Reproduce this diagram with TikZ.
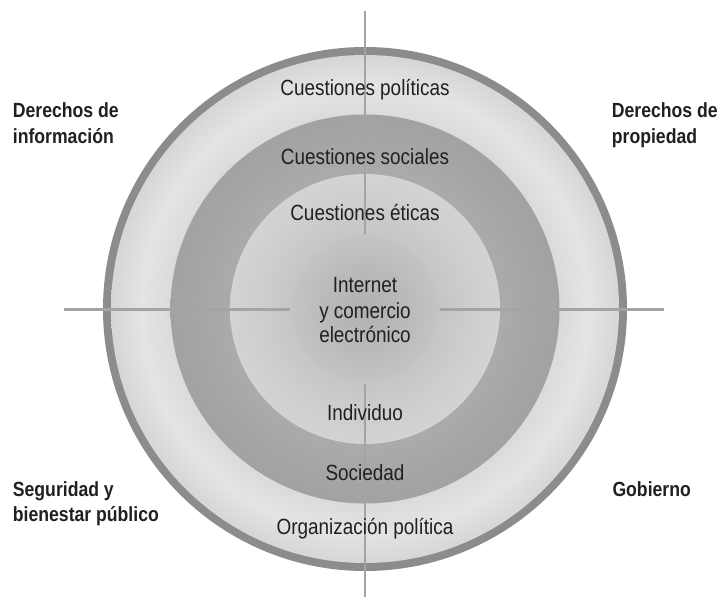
\documentclass[tikz,border=0pt]{standalone}
\usepackage{fontspec}
\setmainfont{Liberation Sans}[FakeStretch=0.86]
\definecolor{ink}{HTML}{231F20}
\definecolor{bordergray}{HTML}{8C8C8C}
\definecolor{axisgray}{HTML}{A4A4A4}
\definecolor{rim}{HTML}{C8C8C8}
\definecolor{aA}{HTML}{DADADA}
\definecolor{aB}{HTML}{E4E4E4}
\definecolor{aC}{HTML}{D6D6D6}
\definecolor{bA}{HTML}{ABABAB}
\definecolor{bB}{HTML}{A6A6A6}
\definecolor{bC}{HTML}{A2A2A2}
\definecolor{cA}{HTML}{C6C6C6}
\definecolor{cB}{HTML}{CDCDCD}
\definecolor{cC}{HTML}{D3D3D3}
\definecolor{dA}{HTML}{B1B1B1}
\definecolor{dB}{HTML}{BABABA}
\definecolor{dC}{HTML}{C4C4C4}
\pgfdeclareradialshading{ringA}{\pgfpoint{0bp}{0bp}}{color(0bp)=(aA); color(19bp)=(aA); color(22bp)=(aB); color(25bp)=(aC); color(50bp)=(aC)}
\pgfdeclareradialshading{ringB}{\pgfpoint{0bp}{0bp}}{color(0bp)=(bA); color(17.3bp)=(bA); color(21bp)=(bB); color(25bp)=(bC); color(50bp)=(bC)}
\pgfdeclareradialshading{ringC}{\pgfpoint{0bp}{0bp}}{color(0bp)=(cA); color(13.8bp)=(cA); color(19bp)=(cB); color(25bp)=(cC); color(50bp)=(cC)}
\pgfdeclareradialshading{core}{\pgfpoint{0bp}{0bp}}{color(0bp)=(dA); color(14bp)=(dB); color(25bp)=(dC); color(50bp)=(dC)}
\begin{document}
\begin{tikzpicture}[x=1pt,y=-1pt,
  lbl/.style={anchor=base,inner sep=0pt,text=ink,font=\fontsize{22}{25}\selectfont},
  side/.style={anchor=base west,inner sep=0pt,text=ink,font=\fontsize{20.5}{26}\selectfont\bfseries},
  axis/.style={draw=axisgray,line width=2.4pt}]
\useasboundingbox (0,0) rectangle (721,605);
\coordinate (c) at (365,309);
\coordinate (top) at (365,11);
\coordinate (bot) at (365,597);
\coordinate (lft) at (64,309.5);
\coordinate (rgt) at (664,309.5);
% rings
\fill[bordergray] (c) circle[radius=262];
\shade[shading=ringA] (c) circle[radius=254];
\shade[shading=ringB] (c) circle[radius=194.5];
\shade[shading=ringC] (c) circle[radius=135];
% axes
\draw[axis] (top) -- (bot);
\draw[axis] (lft) -- (rgt);
% core
\shade[shading=core] (c) circle[radius=74.5];
\draw[rim,line width=1pt] (c) circle[radius=74];
% ring labels
\node[lbl] (pol) at (365,95.5) {Cuestiones políticas};
\node[lbl] (soc) at (365,164.5) {Cuestiones sociales};
\node[lbl] (eti) at (365,220.5) {Cuestiones éticas};
\node[lbl] (in1) at (365,292.5) {Internet};
\node[lbl] (in2) at (365,318) {y comercio};
\node[lbl] (in3) at (365,342.5) {electrónico};
\node[lbl] (ind) at (365,420.5) {Individuo};
\node[lbl] (sdd) at (365,480) {Sociedad};
\node[lbl] (org) at (365,534) {Organización política};
% side labels
\node[side] (di1) at (12.7,117.3) {Derechos de};
\node[side] (di2) at (12.7,143.3) {información};
\node[side] (dp1) at (611.7,117.3) {Derechos de};
\node[side] (dp2) at (611.7,143.3) {propiedad};
\node[side] (sb1) at (12.7,496) {Seguridad y};
\node[side] (sb2) at (12.7,521.7) {bienestar público};
\node[side] (gob) at (612.3,496.7) {Gobierno};
\end{tikzpicture}
\end{document}
